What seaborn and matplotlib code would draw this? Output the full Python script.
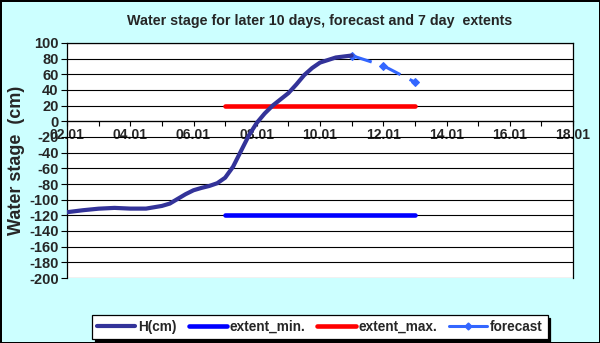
import matplotlib
matplotlib.use("Agg")
import matplotlib.pyplot as plt
from matplotlib.lines import Line2D
import seaborn as sns
import pandas as pd

# days counted from 02.01
h_days = [0, 0.5, 1, 1.5, 2, 2.5, 3, 3.25, 3.5, 3.75, 4, 4.25, 4.5, 4.75, 5,
          5.25, 5.5, 5.75, 6, 6.25, 6.5, 6.75, 7, 7.25, 7.5, 7.75, 8, 8.5, 9]
h_cm = [-116, -113.5, -111.5, -110.5, -111.4, -111.4, -108, -105, -99, -93,
        -88, -85, -82.5, -79, -72, -58, -38, -18, -2, 10, 20, 28, 36, 47, 59,
        68, 75, 81.5, 84]
fc_days = [9, 10, 11]
fc_cm = [84, 71, 50]
ext_days = [5, 11]
ext_min = [-120, -120]
ext_max = [20, 20]
tick_days = list(range(0, 17))
tick_labels = ["%02d.01" % (d + 2) if d % 2 == 0 else "" for d in tick_days]
y_ticks = list(range(-200, 101, 20))

sns.set_style("white")
plt.rcParams['font.family'] = ['Liberation Sans', 'DejaVu Sans']
plt.rcParams['font.weight'] = 'bold'

bg = '#CCFFFF'
c_h = '#333399'
c_min = '#0000FF'
c_max = '#FF0000'
c_fc = '#3366FF'

fig = plt.figure(figsize=(6, 3.43), dpi=100, facecolor=bg, edgecolor='black', linewidth=2)
ax = fig.add_axes([67 / 600, 1 - 278 / 343, 506 / 600, 235 / 343])
ax.set_facecolor('white')

df_h = pd.DataFrame({'day': h_days, 'cm': h_cm})
df_fc = pd.DataFrame({'day': fc_days, 'cm': fc_cm})
df_min = pd.DataFrame({'day': ext_days, 'cm': ext_min})
df_max = pd.DataFrame({'day': ext_days, 'cm': ext_max})

sns.lineplot(data=df_min, x='day', y='cm', ax=ax, color=c_min, lw=3.3, zorder=3)
sns.lineplot(data=df_max, x='day', y='cm', ax=ax, color=c_max, lw=3.3, zorder=3)
sns.lineplot(data=df_fc, x='day', y='cm', ax=ax, color=c_fc, lw=2.2, zorder=4,
             marker='D', markersize=4, markeredgecolor=c_fc,
             linestyle=(0, (6.9, 3.4)))
sns.lineplot(data=df_h, x='day', y='cm', ax=ax, color=c_h, lw=3,
             solid_joinstyle='round', solid_capstyle='round', zorder=5)

ax.set_xlim(0, 16)
ax.set_ylim(-200, 100)
ax.set_yticks(y_ticks)
ax.set_yticklabels([str(v) for v in y_ticks], fontsize=10.5, fontweight='bold')
ax.set_xticks(tick_days)
ax.set_xticklabels(tick_labels, fontsize=10.5, fontweight='bold')
ax.grid(axis='y', color='black', lw=0.8)
ax.grid(axis='x', visible=False)
ax.spines['bottom'].set_position(('data', 0))
for s in ax.spines.values():
    s.set_color('black')
    s.set_linewidth(0.9)
ax.tick_params(axis='y', left=True, length=4, width=0.8, pad=2, color='black')
ax.tick_params(axis='x', bottom=True, length=3.5, width=0.8, pad=1.5, color='black')
ax.set_xlabel('')
ax.set_ylabel('Water stage  (cm)', fontsize=13, fontweight='bold')
ax.yaxis.set_label_coords(-0.083, 0.5)

fig.text(320 / 600, 1 - 21.5 / 343, 'Water stage for later 10 days, forecast and 7 day  extents',
         ha='center', va='center', fontsize=10.3, fontweight='bold')

handles = [
    Line2D([], [], color=c_h, lw=3),
    Line2D([], [], color=c_min, lw=3.3),
    Line2D([], [], color=c_max, lw=3.3),
    Line2D([], [], color=c_fc, lw=2.2, marker='D', markersize=3.5),
]
labels = ['H(cm)', 'extent_min.', 'extent_max.', 'forecast']
leg = fig.legend(handles, labels, loc='center', bbox_to_anchor=(320 / 600, 1 - 327 / 343),
                 ncol=4, frameon=True, fancybox=False, edgecolor='black',
                 shadow={'color': 'black', 'alpha': 1, 'ox': 2, 'oy': -2},
                 handlelength=2.8, handletextpad=0.2, columnspacing=0.9,
                 borderpad=0.35, prop={'weight': 'bold', 'size': 9.8})
leg.get_frame().set_linewidth(0.9)
leg.get_frame().set_facecolor('white')

fig.savefig('out.png', dpi=100, facecolor=bg, edgecolor='black')
